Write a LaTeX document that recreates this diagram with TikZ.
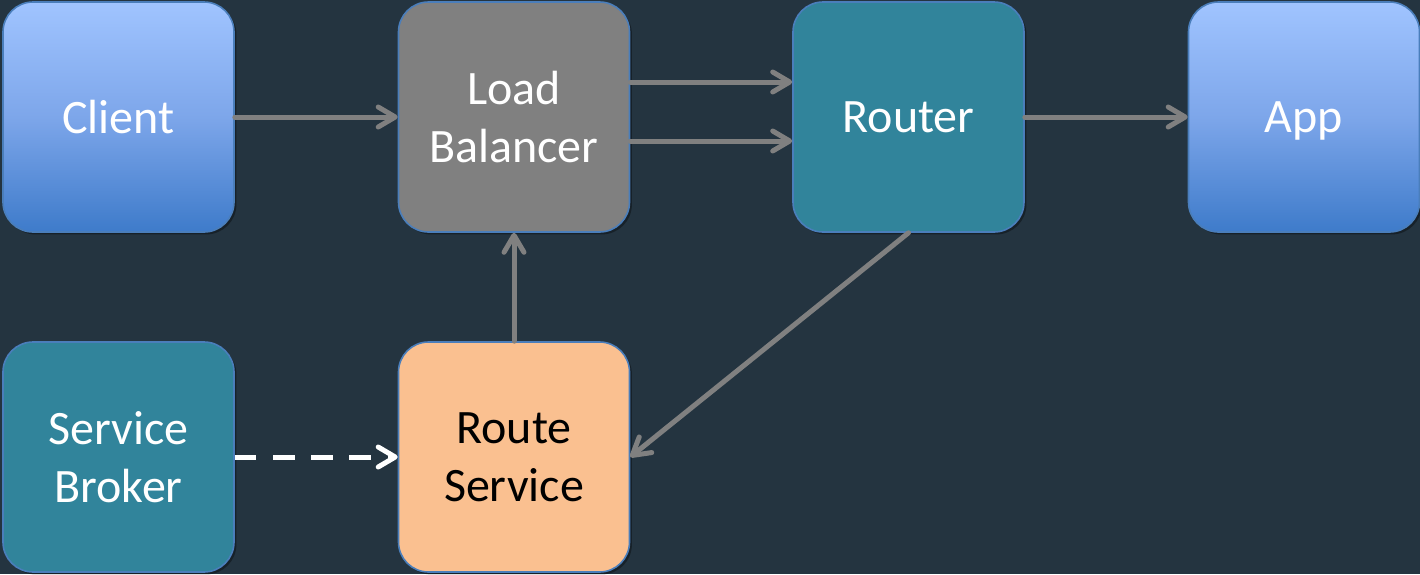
\documentclass[tikz,border=0pt]{standalone}
\usepackage{fontspec}
\setmainfont{Carlito}
\usetikzlibrary{arrows.meta,shadows}
\definecolor{bgc}{HTML}{243440}
\definecolor{edgec}{HTML}{4A7EBB}
\definecolor{arrc}{HTML}{808080}
\definecolor{tealc}{HTML}{31849B}
\definecolor{grayc}{HTML}{808080}
\definecolor{peachc}{HTML}{FAC090}
\definecolor{bluetop}{HTML}{A0C4FF}
\definecolor{bluemid}{HTML}{7DA6EA}
\definecolor{bluebot}{HTML}{3E7BCA}
\tikzset{
  box/.style={rounded corners=15pt, minimum width=115.5pt, minimum height=115pt,
    draw=edgec, line width=0.8pt, font=\fontsize{24}{28.8}\selectfont,
    align=center, text=white, inner sep=0pt,
    drop shadow={opacity=0.35, shadow xshift=1.2pt, shadow yshift=-1.2pt, fill=black}},
  bluebox/.style={box, top color=bluetop, bottom color=bluebot, middle color=bluemid},
  tealbox/.style={box, fill=tealc},
  graybox/.style={box, fill=grayc},
  peachbox/.style={box, fill=peachc, text=black},
  conn/.style={draw=arrc, line width=2.5pt, line cap=round,
    -{Straight Barb[length=8.5pt, width=10pt, line cap=round, line join=round]}},
  dashconn/.style={draw=white, line width=2.5pt, dash pattern=on 10.8pt off 8.3pt,
    -{Straight Barb[length=8.5pt, width=10pt, line cap=round, line join=round]}},
}
\begin{document}
\begin{tikzpicture}[x=0.5pt,y=-0.5pt]
\fill[bgc] (0,0) rectangle (1420,574);
\useasboundingbox (0,0) rectangle (1420,574);
\node[bluebox] (client) at (118.5,117) {Client};
\node[graybox] (lb) at (514,117) {Load\\Balancer};
\node[tealbox] (router) at (908.5,117) {Router};
\node[bluebox, align=none, text depth=0pt] (app) at (1304,117) {App};
\node[tealbox] (broker) at (118.5,457) {Service\\Broker};
\node[peachbox] (rs) at (514,457) {Route\\Service};
\draw[conn] (client.east) -- (lb.west);
\draw[conn] ([yshift=17.5pt]lb.east) -- ([yshift=17.5pt]router.west);
\draw[conn] ([yshift=-12pt]lb.east) -- ([yshift=-12pt]router.west);
\draw[conn] (router.east) -- (app.west);
\draw[conn] (router.south) -- (rs.east);
\draw[conn] (rs.north) -- (lb.south);
\draw[dashconn] (broker.east) -- (rs.west);
\end{tikzpicture}
\end{document}
